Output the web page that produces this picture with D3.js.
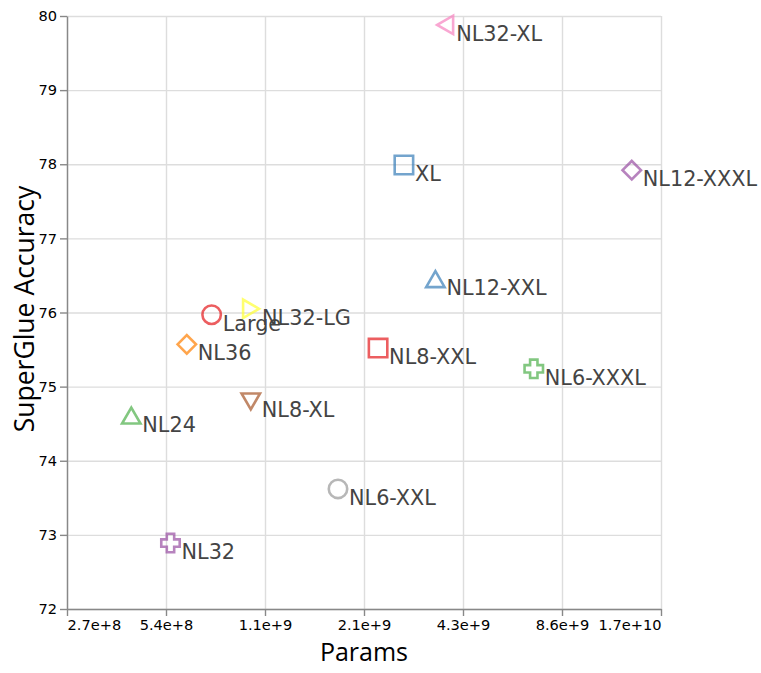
<!DOCTYPE html>
<html>
<head>
<meta charset="utf-8">
<script src="https://cdn.jsdelivr.net/npm/d3@7"></script>
<style>
  body { margin: 0; background: #fff; }
</style>
</head>
<body>
<svg width="761" height="673"></svg>
<script>
// model names, in the order the colour / shape scales assign them
var models = ["Large", "XL", "NL24", "NL32", "NL36", "NL32-LG", "NL8-XL",
              "NL32-XL", "NL6-XXL", "NL8-XXL", "NL12-XXL", "NL6-XXXL", "NL12-XXXL"];
var params = [7.39e8, 2.84e9, 4.21e8, 5.54e8, 6.21e8, 9.74e8, 9.72e8,
              3.79e9, 1.79e9, 2.37e9, 3.54e9, 7.05e9, 1.40e10];
var accuracy = [75.97, 77.99, 74.61, 72.89, 75.57, 76.05, 74.80,
                79.88, 73.62, 75.52, 76.45, 75.24, 77.92];

var xTickValues = [268435456, 536870912, 1073741824, 2147483648,
                   4294967296, 8589934592, 17179869184];
var yTickValues = [72, 73, 74, 75, 76, 77, 78, 79, 80];

var data = models.map(function (m, i) {
    return { name: m, params: params[i], acc: accuracy[i] };
});

var svg = d3.select("svg");
var plotLeft = 67, plotRight = 661, plotTop = 16, plotBottom = 609;

var xScale = d3.scaleLog().base(2).domain([268435456, 17179869184]).range([plotLeft, plotRight]);
var yScale = d3.scaleLinear().domain([72, 80]).range([plotBottom, plotTop]);

var color = d3.scaleOrdinal().domain(models).range(d3.schemeSet1);
var shape = d3.scaleOrdinal().domain(models)
    .range(["circle", "square", "triangle-up", "cross", "diamond",
            "triangle-right", "triangle-down", "triangle-left"]);

// vega style symbol paths
function symbolPath(type, size) {
    var r = Math.sqrt(size) / 2, h = r * Math.sqrt(3) / 2, s = r / 2.5;
    switch (type) {
        case "circle":
            return "M" + r + ",0A" + r + "," + r + ",0,1,1," + (-r) + ",0A" + r + "," + r + ",0,1,1," + r + ",0Z";
        case "square":
            return "M" + (-r) + "," + (-r) + "H" + r + "V" + r + "H" + (-r) + "Z";
        case "diamond":
            return "M" + (-r) + ",0L0," + (-r) + "L" + r + ",0L0," + r + "Z";
        case "triangle-up":
            return "M0," + (-h) + "L" + (-r) + "," + h + "L" + r + "," + h + "Z";
        case "triangle-down":
            return "M0," + h + "L" + (-r) + "," + (-h) + "L" + r + "," + (-h) + "Z";
        case "triangle-right":
            return "M" + h + ",0L" + (-h) + "," + (-r) + "L" + (-h) + "," + r + "Z";
        case "triangle-left":
            return "M" + (-h) + ",0L" + h + "," + (-r) + "L" + h + "," + r + "Z";
        case "cross":
            return "M" + (-r) + "," + (-s) + "L" + (-r) + "," + s + "L" + (-s) + "," + s + "L" + (-s) + "," + r +
                   "L" + s + "," + r + "L" + s + "," + s + "L" + r + "," + s + "L" + r + "," + (-s) +
                   "L" + s + "," + (-s) + "L" + s + "," + (-r) + "L" + (-s) + "," + (-r) + "L" + (-s) + "," + (-s) + "Z";
    }
}

// grid
svg.append("g")
    .attr("transform", "translate(0," + plotBottom + ")")
    .call(d3.axisBottom(xScale).tickValues(xTickValues).tickSize(-(plotBottom - plotTop)).tickFormat(""))
    .call(function (g) {
        g.select(".domain").remove();
        g.selectAll("line").attr("stroke", "#ddd").attr("stroke-width", 1.4);
    });

svg.append("g")
    .attr("transform", "translate(" + plotLeft + ",0)")
    .call(d3.axisLeft(yScale).tickValues(yTickValues).tickSize(-(plotRight - plotLeft)).tickFormat(""))
    .call(function (g) {
        g.select(".domain").remove();
        g.selectAll("line").attr("stroke", "#ddd").attr("stroke-width", 1.4);
    });

// axes
var xAxis = svg.append("g")
    .attr("transform", "translate(0," + plotBottom + ")")
    .call(d3.axisBottom(xScale).tickValues(xTickValues).tickSize(7).tickSizeOuter(0)
        .tickPadding(4).tickFormat(d3.format(".2")));

var yAxis = svg.append("g")
    .attr("transform", "translate(" + plotLeft + ",0)")
    .call(d3.axisLeft(yScale).tickValues(yTickValues).tickSize(7).tickSizeOuter(0)
        .tickPadding(3).tickFormat(d3.format("d")));

[xAxis, yAxis].forEach(function (g) {
    g.select(".domain").attr("stroke", "#888").attr("stroke-width", 1.4);
    g.selectAll(".tick line").attr("stroke", "#888").attr("stroke-width", 1.4);
    g.selectAll(".tick text")
        .attr("fill", "#000")
        .style("font-family", "DejaVu Sans")
        .style("font-size", "14.6px");
});

// flush first / last x labels like vega
xAxis.selectAll(".tick text")
    .attr("text-anchor", function (d, i) {
        return i === 0 ? "start" : (i === xTickValues.length - 1 ? "end" : "middle");
    });

// titles
svg.append("text")
    .attr("x", (plotLeft + plotRight) / 2)
    .attr("y", 661)
    .attr("text-anchor", "middle")
    .style("font-family", "Open Sans")
    .style("font-size", "25px")
    .attr("fill", "#000")
    .text("Params");

svg.append("text")
    .attr("text-anchor", "middle")
    .attr("transform", "translate(34," + 309 + ")rotate(-90)")
    .style("font-family", "Open Sans")
    .style("font-size", "26.5px")
    .attr("fill", "#000")
    .text("SuperGlue Accuracy");

// points
svg.append("g")
    .selectAll("path")
    .data(data)
    .enter()
    .append("path")
    .attr("transform", function (d) { return "translate(" + xScale(d.params) + "," + yScale(d.acc) + ")"; })
    .attr("d", function (d) { return symbolPath(shape(d.name), 340); })
    .attr("fill", "none")
    .attr("stroke", function (d) { return color(d.name); })
    .attr("stroke-width", 2.6)
    .attr("opacity", 0.7);

// labels
svg.append("g")
    .selectAll("text")
    .data(data)
    .enter()
    .append("text")
    .attr("x", function (d) { return xScale(d.params) + 11; })
    .attr("y", function (d) { return yScale(d.acc) + 16; })
    .style("font-family", "DejaVu Sans")
    .style("font-size", "20.8px")
    .attr("fill", "#444")
    .text(function (d) { return d.name; });
</script>
</body>
</html>
